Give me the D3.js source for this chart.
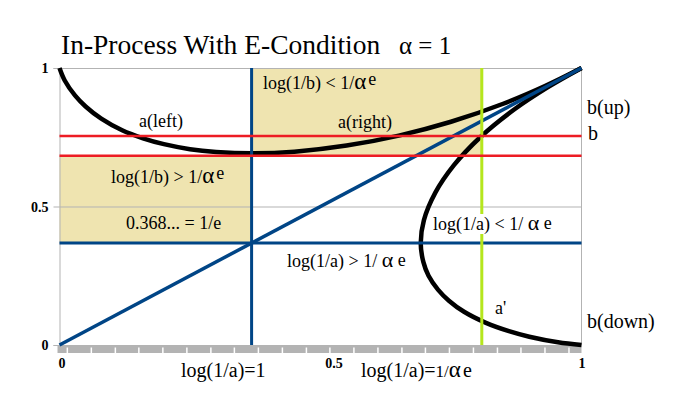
<!DOCTYPE html>
<html>
<head>
<meta charset="utf-8">
<script src="https://cdn.jsdelivr.net/npm/d3@7"></script>
<style>
  body { margin: 0; background: #fff; }
  svg { display: block; }
  text { font-family: 'Liberation Serif', 'DejaVu Serif', serif; fill: #000; }
  .axis text { font-weight: bold; font-size: 14px; }
</style>
</head>
<body>
<div id="chart"></div>
<script>
// canvas + plot box
const width = 676
const height = 406
const plot = { left: 59.5, right: 581.5, top: 68, bottom: 345 }

// curve b = a^a (a along x, b along y)
const curveA = [0, 0.01, 0.03, 0.05, 0.08, 0.12, 0.16, 0.2, 0.25, 0.3, 0.368, 0.45, 0.55, 0.65, 0.75, 0.85, 0.93, 1]
const curveB = [1, 0.955, 0.9, 0.861, 0.817, 0.775, 0.746, 0.725, 0.707, 0.697, 0.692, 0.698, 0.72, 0.756, 0.806, 0.871, 0.935, 1]

// diagonal b = a
const diagA = [0, 1]
const diagB = [0, 1]

// reference lines
const invE = 0.368 // 1/e, blue cross
const bLow = 0.683 // lower red line, under the minimum of the curve
const bUp = 0.7545 // upper red line, "b"
const aPrime = 0.809 // green line, a'

// tick labels
const yTicks = [0, 0.5, 1]
const yTickLabels = ['0', '0.5', '1']
const xTicks = [0, 0.5, 1]
const xTickLabels = ['0', '0.5', '1']
const bandTicks = [0.015, 0.061, 0.107, 0.152, 0.198, 0.244, 0.29, 0.335, 0.381, 0.427, 0.473,
  0.518, 0.564, 0.61, 0.656, 0.701, 0.747, 0.793, 0.839, 0.884, 0.93, 0.976]

const colors = {
  tan: '#efe4b0',
  grid: '#b3b3b3',
  blue: '#004586',
  red: '#ed1c24',
  green: '#b5e61d'
}

const x = d3.scaleLinear().domain([0, 1]).range([plot.left, plot.right])
const y = d3.scaleLinear().domain([0, 1]).range([plot.bottom, plot.top])

const svg = d3.select('#chart')
  .append('svg')
  .attr('width', width)
  .attr('height', height)
  .attr('font-family', "'Liberation Serif', 'DejaVu Serif', serif")

svg.append('rect').attr('width', width).attr('height', height).attr('fill', '#fff')

// title
const title = svg.append('text')
  .attr('x', 61)
  .attr('y', 54)
  .attr('font-size', 27.5)
title.append('tspan').text('In-Process With E-Condition')
title.append('tspan').attr('x', 399).attr('font-size', 25).text('α = 1')

// tan regions
svg.append('rect')
  .attr('x', x(invE))
  .attr('y', y(1))
  .attr('width', x(aPrime) - x(invE))
  .attr('height', y(bLow) - y(1))
  .attr('fill', colors.tan)

svg.append('rect')
  .attr('x', x(0))
  .attr('y', y(bLow))
  .attr('width', x(invE) - x(0))
  .attr('height', y(invE) - y(bLow))
  .attr('fill', colors.tan)

// grid + frame
const grid = d3.axisLeft(y)
  .tickValues([0.5, 1])
  .tickSize(-(plot.right - plot.left))
  .tickFormat('')
svg.append('g')
  .attr('transform', `translate(${plot.left},0)`)
  .call(grid)
  .call(g => g.select('.domain').remove())
  .selectAll('.tick line')
  .attr('stroke', colors.grid)

svg.append('line')
  .attr('x1', plot.right).attr('x2', plot.right)
  .attr('y1', plot.top).attr('y2', plot.bottom)
  .attr('stroke', colors.grid)

// y axis
const yAxis = d3.axisLeft(y)
  .tickValues(yTicks)
  .tickSize(6)
  .tickPadding(5)
  .tickFormat((d, i) => yTickLabels[i])
svg.append('g')
  .attr('class', 'axis')
  .attr('transform', `translate(${plot.left},0)`)
  .call(yAxis)
  .attr('font-family', null)
  .call(g => g.selectAll('.domain, .tick line').attr('stroke', colors.grid))
  .call(g => g.selectAll('.tick text').attr('dy', '0.35em'))

// x axis: grey band with white notches
svg.append('rect')
  .attr('x', plot.left - 2)
  .attr('y', plot.bottom)
  .attr('width', plot.right - plot.left + 2)
  .attr('height', 8)
  .attr('fill', colors.grid)

svg.append('g')
  .selectAll('line')
  .data(bandTicks)
  .enter()
  .append('line')
  .attr('x1', d => x(d)).attr('x2', d => x(d))
  .attr('y1', plot.bottom + 2.5).attr('y2', plot.bottom + 8)
  .attr('stroke', '#fff')
  .attr('stroke-width', 1.5)

const xAxis = d3.axisBottom(x)
  .tickValues(xTicks)
  .tickSize(0)
  .tickPadding(13)
  .tickFormat((d, i) => xTickLabels[i])
svg.append('g')
  .attr('class', 'axis')
  .attr('transform', `translate(0,${plot.bottom})`)
  .call(xAxis)
  .attr('font-family', null)
  .call(g => g.select('.domain').remove())
  .call(g => g.selectAll('.tick text').attr('dx', d => (d === 0.5 ? 13 : d === 0 ? 2 : 0)))

// curves
const upper = curveA.map((a, i) => [a, curveB[i]])
const sideways = curveA.map((a, i) => [curveB[i], a])

const line = d3.line()
  .x(d => x(d[0]))
  .y(d => y(d[1]))
  .curve(d3.curveCatmullRom)

svg.append('path')
  .datum(upper)
  .attr('d', line)
  .attr('fill', 'none')
  .attr('stroke', '#000')
  .attr('stroke-width', 4.5)

svg.append('path')
  .datum(sideways)
  .attr('d', line)
  .attr('fill', 'none')
  .attr('stroke', '#000')
  .attr('stroke-width', 4.5)

// blue lines
svg.append('path')
  .datum(diagA.map((a, i) => [a, diagB[i]]))
  .attr('d', d3.line().x(d => x(d[0])).y(d => y(d[1])))
  .attr('stroke', colors.blue)
  .attr('stroke-width', 3.5)

svg.append('line')
  .attr('x1', x(invE)).attr('x2', x(invE))
  .attr('y1', y(1)).attr('y2', y(0))
  .attr('stroke', colors.blue)
  .attr('stroke-width', 3)

svg.append('line')
  .attr('x1', x(0)).attr('x2', x(1))
  .attr('y1', y(invE)).attr('y2', y(invE))
  .attr('stroke', colors.blue)
  .attr('stroke-width', 3)

// green a'
svg.append('line')
  .attr('x1', x(aPrime)).attr('x2', x(aPrime))
  .attr('y1', y(1)).attr('y2', y(0))
  .attr('stroke', colors.green)
  .attr('stroke-width', 3)

// white box behind the right-hand label
svg.append('rect')
  .attr('x', 430)
  .attr('y', 214)
  .attr('width', 130)
  .attr('height', 20)
  .attr('fill', '#fff')

// red lines
;[bLow, bUp].forEach(b => {
  svg.append('line')
    .attr('x1', x(0)).attr('x2', x(1))
    .attr('y1', y(b)).attr('y2', y(b))
    .attr('stroke', colors.red)
    .attr('stroke-width', 2.5)
})

// labels
function label(px, py, parts, size) {
  const t = svg.append('text')
    .attr('x', px)
    .attr('y', py)
    .attr('font-size', size || 18)
  parts.forEach(p => {
    const s = t.append('tspan').text(p.t)
    if (p.size) s.attr('font-size', p.size)
    if (p.dy) s.attr('dy', p.dy)
    if (p.dx) s.attr('dx', p.dx)
  })
  return t
}

label(263, 89, [{ t: 'log(1/b) < 1/' }, { t: 'α', size: 23 }, { t: 'e', dy: -4, dx: 2 }])
label(338, 128, [{ t: 'a(right)' }])
label(139, 127, [{ t: 'a(left)' }])
label(111, 183, [{ t: 'log(1/b) > 1/' }, { t: 'α', size: 23 }, { t: 'e', dy: -4, dx: 2 }])
label(126, 229, [{ t: '0.368... = 1/e' }])
label(287, 267, [{ t: 'log(1/a) > 1/ ' }, { t: 'α', size: 22 }, { t: ' e', dy: -1 }])
label(433, 230, [{ t: 'log(1/a) < 1/ ' }, { t: 'α', size: 22 }, { t: ' e', dy: -1 }])
label(495, 314, [{ t: "a'" }])
label(587, 114, [{ t: 'b(up)' }], 20)
label(588, 140, [{ t: 'b' }], 20)
label(587, 328, [{ t: 'b(down)' }], 20)
label(181, 377, [{ t: 'log(1/a)=1' }], 20)
label(361, 377, [{ t: 'log(1/a)=' }, { t: '1/', size: 17 }, { t: 'α', size: 23 }, { t: 'e', dx: 2 }], 20)
</script>
</body>
</html>
